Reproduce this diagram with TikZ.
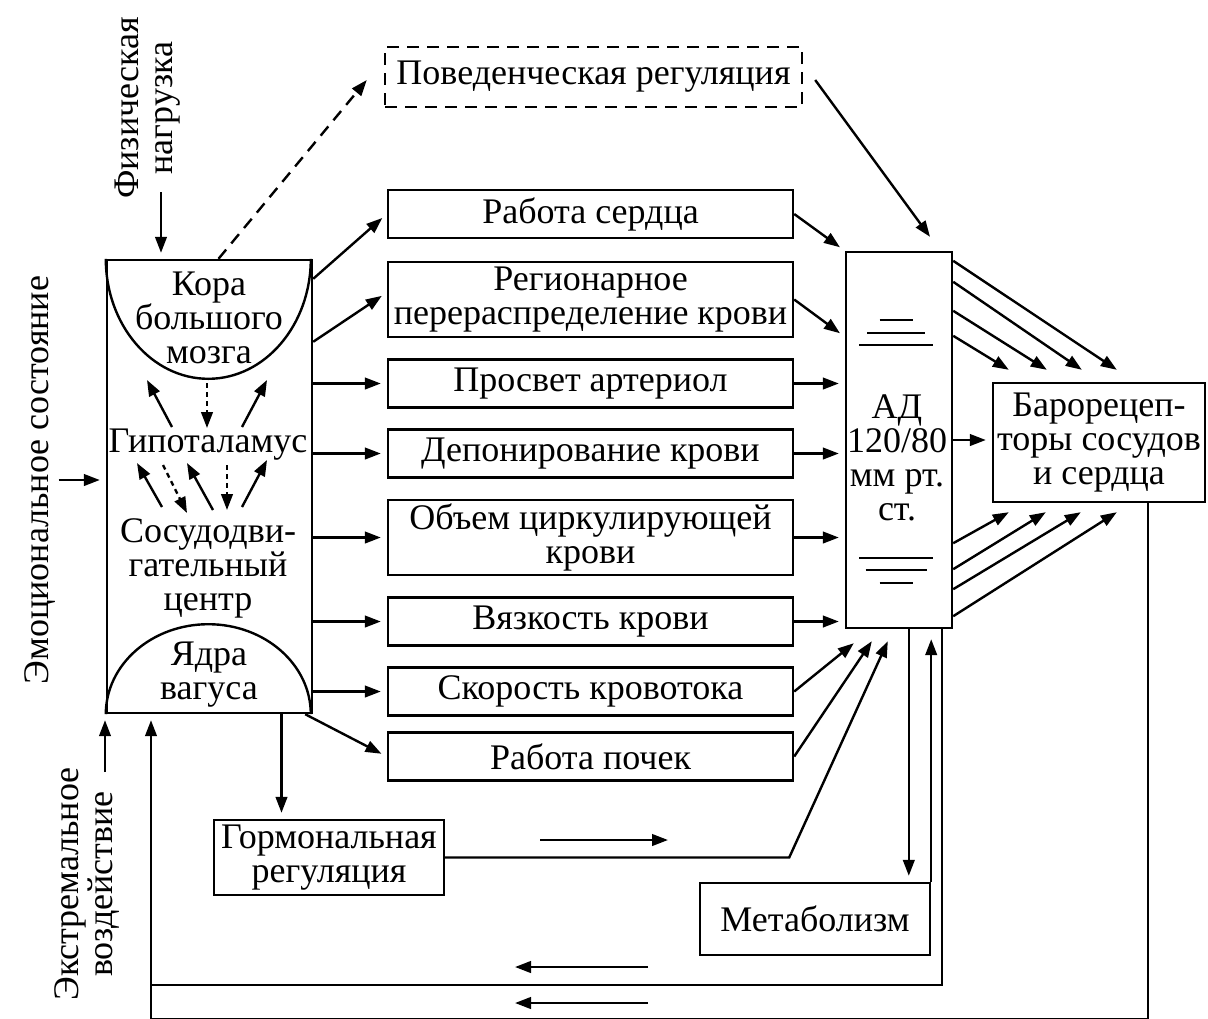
\documentclass[tikz,border=0pt]{standalone}
\usepackage{fontspec}
\setmainfont{Liberation Serif}
\usetikzlibrary{arrows.meta,calc}

\begin{document}
\begin{tikzpicture}[x=0.5pt, y=-0.5pt, font=\fontsize{18}{17}\selectfont,
  >={Triangle[length=8pt,width=5.8pt]}, line width=1.2pt,
  blk/.style={draw, align=center, inner sep=1pt},
  mid/.style={blk, minimum width=202.5pt, minimum height=24pt},
  tall/.style={mid, minimum height=37.5pt},
  arr/.style={->, shorten >=3pt},
  dots/.style={->, dash pattern=on 2.5pt off 2pt},
  vlabel/.style={rotate=90, align=center, inner sep=1pt}]
  \clip (0,0) rectangle (1208,1018);

  % central nervous control
  \node[blk, minimum width=102.5pt, minimum height=226.5pt] (cns) at (209.5,486.5) {};
  \draw (cns.north west) arc[start angle=180, end angle=0, x radius=102.5, y radius=120];
  \draw (cns.south west) arc[start angle=180, end angle=360, x radius=102.5, y radius=90];
  \node[align=center] (cortex) at (209,318) {Кора\\большого\\мозга};
  \node (hypo) at (208,445) {Гипоталамус};
  \node[align=center] (vmc) at (208,568) {Сосудодви-\\гательный\\центр};
  \node[align=center] (vagus) at (209,675) {Ядра\\вагуса};
  \foreach \a/\b in {{-36,-18}/{-61,-65}, {34,-18}/{59,-65}, {-46,62}/{-71,18},
                     {5,65}/{-21,18}, {34,62}/{59,15}}
    \draw[->] ($(hypo)+(\a)$) -- ($(hypo)+(\b)$);
  \foreach \a/\b in {{-1,-62}/{-1,-17}, {-45,20}/{-21,68}, {19,20}/{19,65}}
    \draw[dots] ($(hypo)+(\a)$) -- ($(hypo)+(\b)$);

  % outer influences
  \node[vlabel] (phys) at (148,108) {Физическая\\нагрузка};
  \node[vlabel] (emo) at (40,480) {Эмоциональное состояние};
  \node[vlabel] (ext) at (87,884) {Экстремальное\\воздействие};
  \coordinate (physin) at (161,192);
  \coordinate (extin) at (105,772);
  \draw[arr] (physin) -- (physin |- cns.north);
  \draw[arr] (emo.south) -- (emo.south -| cns.west);
  \draw[arr] (extin) -- (extin |- cns.south);

  % effectors
  \node[blk, dash pattern=on 6pt off 4pt, minimum width=208.5pt, minimum height=30pt] (beh) at (593.5,77) {Поведенческая регуляция};
  \node[mid] (heart) at (590.5,214) {Работа сердца};
  \node[tall] (regio) at (590.5,299.5) {Регионарное\\перераспределение крови};
  \node[mid] (arter) at (590.5,383.5) {Просвет артериол};
  \node[mid] (depot) at (590.5,453.5) {Депонирование крови};
  \node[tall] (volume) at (590.5,537.5) {Объем циркулирующей\\крови};
  \node[mid] (visc) at (590.5,621.5) {Вязкость крови};
  \node[mid] (speed) at (590.5,691.5) {Скорость кровотока};
  \node[mid] (kidney) at (590.5,756.5) {Работа почек};
  \node[blk, minimum width=115pt, minimum height=37.5pt] (horm) at (329,857.5) {Гормональная\\регуляция};
  \node[blk, minimum width=115pt, minimum height=36pt] (metab) at (815,919) {Метаболизм};

  % blood pressure and receptors
  \node[blk, minimum width=53pt, minimum height=188pt] (ad) at (899,440) {};
  \node[align=center] (adtxt) at ($(ad.center)+(-2,18)$) {АД\\120/80\\мм рт.\\ст.};
  \foreach \dy/\w in {-120/16.5, -107/29, -95/37, 118/37, 130/30.5, 143/16.5}
    \draw[line width=0.9pt] ($(ad.center)+(-3-\w,\dy)$) -- ++(2*\w,0);
  \node[blk, minimum width=106pt, minimum height=59.5pt] (baro) at (1099,442.5) {Барорецеп-\\торы сосудов\\и сердца};

  \draw[->, dash pattern=on 6pt off 4pt] ($(cns.north)+(9,0)$) -- ($(beh.west)+(-17,3)$);
  \draw[->] ($(beh.east)+(12,3)$) -- ($(ad.north)+(31,-14)$);

  \draw[arr] ($(cns.north east)+(0,20)$) -- (heart.west);
  \draw[arr] ($(cns.north east)+(0,83)$) -- ($(regio.west)+(0,-7)$);
  \foreach \b in {arter,depot,volume,visc,speed}
    \draw[arr] (\b.west -| cns.east) -- (\b.west);
  \draw[arr] ($(cns.south east)+(-8,0)$) -- (kidney.west);
  \draw[arr] ($(cns.south)+(72,0)$) coordinate (h0) -- (h0 |- horm.north);

  \draw[arr] (heart.east) -- (ad.north west);
  \draw[arr] (regio.east) -- ($(ad.north west)+(0,86)$);
  \foreach \b in {arter,depot,volume,visc}
    \draw[arr] (\b.east) -- (\b.east -| ad.west);
  \draw[->] (speed.east) -- ($(ad.south west)+(9,14)$);
  \draw[->] (kidney.east) -- ($(ad.south west)+(27,12)$);
  \draw[->] (horm.east) -- ++(344,0) -- ($(ad.south west)+(43,12)$);

  \draw[arr] ($(ad.south west)+(64,0)$) coordinate (m0) -- (m0 |- metab.north);
  \draw[->, shorten >=5pt] (metab.north east) -- (metab.north east |- ad.south);

  \draw[arr] (ad.east) -- (ad.east -| baro.west);
  \foreach \s/\t in {10/125, 31/90, 60/55, 85/17}
    \draw[->] ($(ad.north east)+(0,\s)$) -- ($(baro.north west)+(\t,-12)$);
  \foreach \s/\t in {-86/17, -60/54, -40/89, -13/125}
    \draw[->] ($(ad.south east)+(0,\s)$) -- ($(baro.south west)+(\t,9)$);

  % feedback loops
  \coordinate (loop) at (151,985);
  \draw[arr] ($(ad.south east)+(-11,0)$) |- (loop) -- (loop |- cns.south);
  \draw ($(baro.south)+(49,0)$) |- (151,1019) -- (loop);

  % direction marks
  \draw[->] (540,840) -- (668,840);
  \draw[->] (648,967) -- (515,967);
  \draw[->] (648,1003) -- (515,1003);
\end{tikzpicture}
\end{document}
